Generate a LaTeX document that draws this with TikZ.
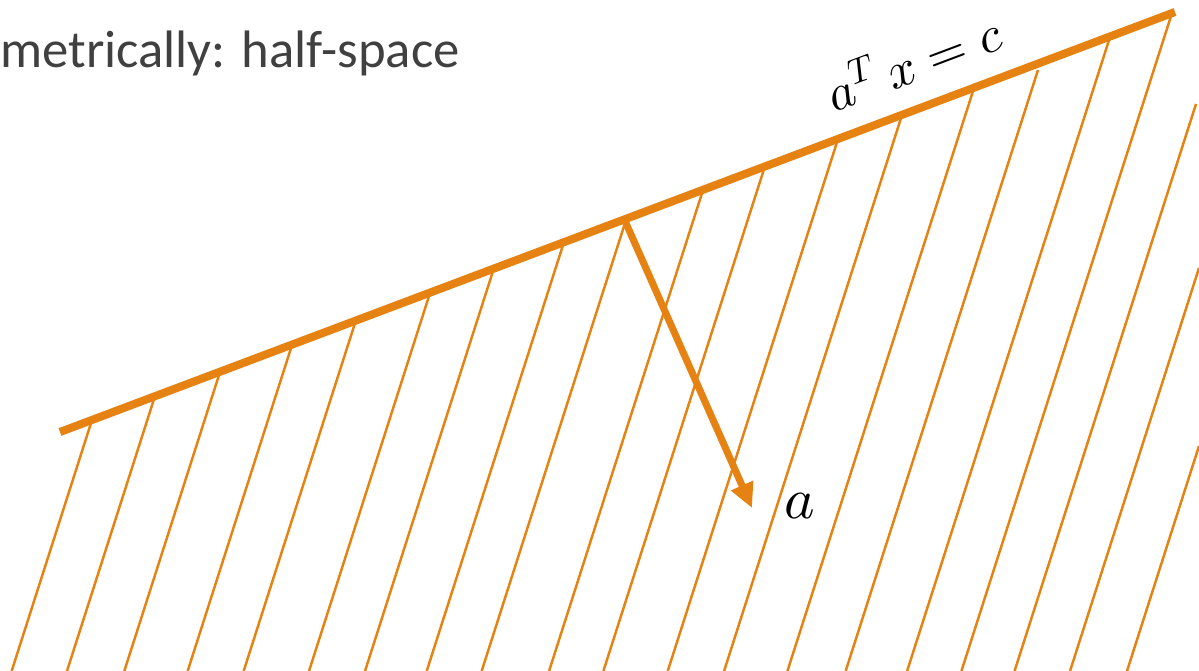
\documentclass[tikz,border=0pt]{standalone}
\usepackage{fontspec}
\usepackage{unicode-math}
\setmathfont{Latin Modern Math}
\newfontfamily\calibri{Carlito}
\usetikzlibrary{arrows.meta, positioning}
\definecolor{hsorange}{RGB}{230,130,18}
\definecolor{textgray}{RGB}{64,64,64}

\begin{document}
\begin{tikzpicture}[x=0.02cm, y=-0.02cm,
    boundary/.style={draw=hsorange, line width=4.6pt},
    hatch/.style={draw=hsorange, line width=1.4pt},
    normal/.style={draw=hsorange, line width=4pt, -{Triangle[length=14pt, width=13pt]}},
    mathlabel/.style={font=\fontsize{29}{35}\selectfont},
    titlelabel/.style={anchor=base west, text=textgray, font=\calibri\fontsize{30}{36}\selectfont, inner sep=0pt}
]
    \useasboundingbox (0,0) rectangle (1199,671);

    % --- Title ---
    \node[titlelabel] (title) at (0,68) {metrically: half-space};

    % --- Hatching of the half-space ---
    \foreach \xt/\yt in {92/420, 155/396, 220/372, 292/345, 356/320, 430/293,
                         494/268, 564/242, 626/220, 703/190, 765/166, 838/139,
                         902/115, 974/88, 1038/70, 1110/37, 1172/13,
                         1196/104, 1199/268, 1199/446} {
        \draw[hatch] (\xt,\yt) -- ++({-0.32*(671-\yt)},{671-\yt});
    }

    % --- Boundary hyperplane ---
    \coordinate (lft) at (60,432);
    \coordinate (rgt) at (1175,12);
    \draw[boundary] (lft) -- (rgt)
        node[mathlabel, pos=0.78, sloped, above=9pt] (plane) {$a^{T}\, x = c$};

    % --- Normal vector ---
    \coordinate (base) at (625,221);
    \coordinate (tip) at (752,508);
    \draw[normal] (base) -- (tip);
    \node[mathlabel, font=\fontsize{33}{39}\selectfont] (avec) at (800,506) {$a$};
\end{tikzpicture}
\end{document}
